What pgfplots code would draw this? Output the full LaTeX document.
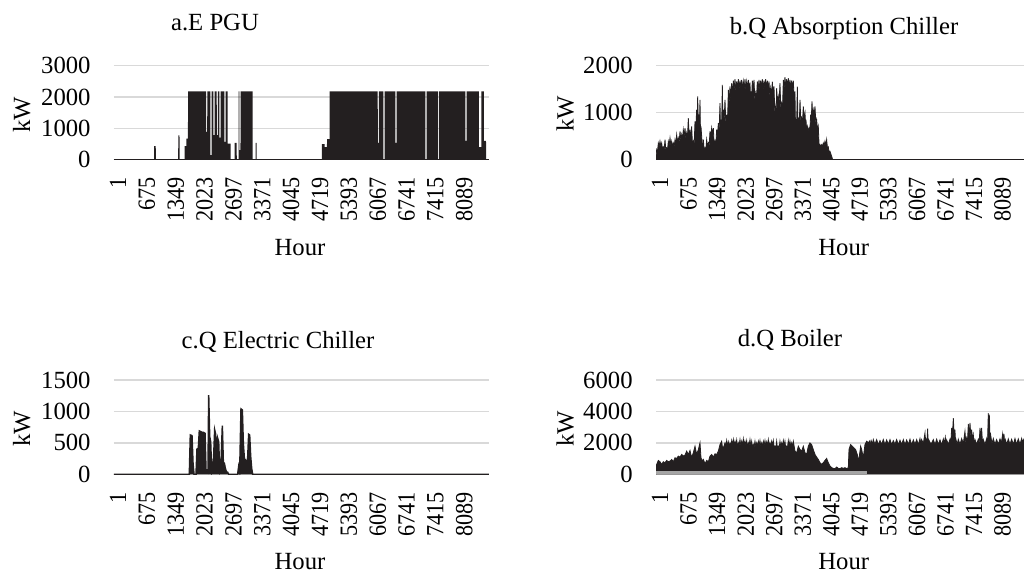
\documentclass[border=0pt]{standalone}
\usepackage{fontspec}
\setmainfont{Liberation Serif}
\usepackage{pgfplots}
\pgfplotsset{compat=1.18}
\definecolor{ser}{RGB}{35,31,32}
\definecolor{gridc}{RGB}{217,217,217}
\definecolor{band}{RGB}{165,165,165}
\newcommand\cf{\fontsize{12.35pt}{14pt}\selectfont}
\pgfplotsset{
 panel/.style={
  scale only axis, anchor=south west,
  xmin=0, xmax=8760, ymin=0,
  axis line style={draw=none},
  major tick length=0pt,
  ymajorgrids, grid style={gridc, line width=0.75pt},
  xtick={1,675,1349,2023,2697,3371,4045,4719,5393,6067,6741,7415,8089},
  xticklabels={1,675,1349,2023,2697,3371,4045,4719,5393,6067,6741,7415,8089},
  x tick label style={font=\cf, inner sep=0pt, xshift=2pt, rotate=90, xscale=0.9, anchor=east},
  y tick label style={font=\cf, inner sep=0pt, anchor=east},
  xticklabel shift=8.7pt, yticklabel shift=11.5pt,
  /pgf/number format/assume math mode=true,
 }
}
\begin{document}
\begin{tikzpicture}
% a
\begin{axis}[panel, at={(57pt,206.7pt)}, width=187.5pt, height=47pt, ymax=3000,
  ytick={0,1000,2000,3000}, yticklabels={0,1000,2000,3000}]
\addplot[fill=ser, draw=none] coordinates {
(0,0)(935,0)(937,430)(975,430)(977,0)(1500,0)(1502,770)(1530,770)(1532,0)(1648,0)(1650,430)(1690,430)(1692,670)(1728,670)(1730,2180)
(2151,2180)(2152,885)(2178,885)(2179,2180)
(2250,2180)(2251,140)(2280,140)(2281,2180)
(2322,2180)(2323,780)(2349,780)(2350,2180)
(2400,2180)(2401,780)(2427,780)(2428,2180)
(2462,2180)(2463,700)(2489,700)(2490,2180)
(2579,2180)(2580,565)(2606,565)(2607,2180)
(2655,2180)(2656,510)(2725,510)(2727,0)
(2815,0)(2817,530)(2866,530)(2868,0)
(2912,0)(2914,2180)(2930,2180)(2931,300)(2955,300)(2956,2180)(3238,2180)(3240,0)
(3306,0)(3308,530)(3330,530)(3332,0)
(4855,0)(4857,490)(4920,490)(4922,400)(4975,400)(4977,650)(5036,650)(5040,2180)
(6161,2180)(6162,530)(6188,530)(6189,2180)
(6293,2180)(6294,0)(6320,0)(6321,2180)
(6574,2180)(6575,530)(6601,530)(6602,2180)
(7274,2180)(7275,0)(7301,0)(7302,2180)
(7563,2180)(7564,0)(7590,0)(7591,2180)
(8209,2180)(8210,600)(8236,600)(8237,2180)
(8525,2180)(8526,400)(8580,400)(8582,2180)(8640,2180)(8642,600)(8690,600)(8692,0)(8760,0)};
\addplot[ser, line width=0.75pt] coordinates {(0,0)(8760,0)};
\end{axis}
% b
\begin{axis}[panel, at={(328pt,206.7pt)}, width=185.5pt, height=47pt, ymax=2000,
  ytick={0,1000,2000}, yticklabels={0,1000,2000}]
\addplot[fill=ser, draw=ser, line width=0.4pt] coordinates {
(0,0)(8,150)(16,212)(35,170)(55,353)(75,280)(94,389)(114,280)(134,353)(153,215)(173,269)(193,215)(213,424)(232,200)(252,247)(271,200)(291,389)(311,310)(331,459)(350,310)(370,389)(389,280)(409,353)(429,280)(449,424)(468,340)(488,530)(507,370)(527,459)(547,370)(567,601)(586,420)(606,530)(625,420)(645,636)(665,500)(685,671)(704,450)(724,565)(743,450)(763,883)(783,480)(803,601)(822,480)(842,707)(861,310)(881,389)(901,310)(921,813)(940,650)(960,1060)(972,850)(984,1343)(1000,760)(1015,954)(1027,760)(1039,1272)(1050,560)(1062,707)(1094,283)(1106,220)(1118,424)(1137,200)(1157,247)(1176,200)(1196,424)(1216,280)(1236,353)(1255,280)(1275,601)(1294,480)(1314,671)(1334,540)(1354,671)(1373,310)(1393,389)(1412,310)(1432,636)(1452,510)(1472,777)(1491,620)(1511,1201)(1523,680)(1535,848)(1550,680)(1566,1590)(1578,850)(1590,1060)(1610,850)(1629,1272)(1649,760)(1669,954)(1688,760)(1708,1484)(1727,1190)(1747,1555)(1767,1250)(1787,1625)(1806,1350)(1826,1682)(1845,1500)(1865,1710)(1885,1450)(1905,1661)(1925,1500)(1944,1710)(1963,1480)(1983,1682)(2003,1520)(2023,1696)(2043,1470)(2062,1661)(2082,1500)(2101,1710)(2121,1480)(2141,1661)(2160,1510)(2180,1696)(2200,1460)(2219,1640)(2231,1250)(2243,1449)(2258,1300)(2274,1682)(2294,1500)(2314,1696)(2334,1250)(2353,1413)(2373,1300)(2392,1661)(2412,1500)(2432,1696)(2452,1480)(2471,1682)(2490,1510)(2510,1710)(2530,1470)(2550,1682)(2570,1520)(2589,1710)(2609,1480)(2628,1682)(2648,1500)(2668,1661)(2688,1350)(2707,1519)(2727,1350)(2746,1661)(2766,1380)(2786,1555)(2805,1000)(2825,1131)(2837,1000)(2849,1519)(2868,1200)(2888,1343)(2907,1200)(2927,1625)(2947,1080)(2967,1201)(2987,1080)(3006,1696)(3026,1520)(3045,1753)(3065,1540)(3085,1710)(3105,1520)(3124,1731)(3144,1500)(3163,1696)(3183,1510)(3203,1682)(3222,1490)(3242,1682)(3262,1300)(3281,1449)(3293,730)(3305,813)(3321,730)(3337,1555)(3352,760)(3368,848)(3384,760)(3400,1272)(3420,790)(3439,883)(3459,790)(3478,1131)(3498,880)(3518,989)(3530,760)(3541,848)(3557,630)(3573,707)(3593,600)(3612,671)(3632,600)(3651,954)(3667,850)(3683,1237)(3699,950)(3714,1060)(3734,950)(3754,1131)(3774,760)(3793,848)(3813,630)(3832,707)(3852,280)(3872,318)(3891,280)(3911,318)(3931,280)(3950,353)(3970,300)(3990,389)(4010,300)(4029,424)(4049,240)(4068,269)(4088,160)(4108,177)(4147,71)(4171,0)(8760,0)};
\addplot[ser, line width=0.75pt] coordinates {(0,0)(8760,0)};
\end{axis}
% c
\begin{axis}[panel, at={(57pt,49.35pt)}, width=187.5pt, height=47.15pt, ymax=1500,
  ytick={0,500,1000,1500}, yticklabels={0,500,1000,1500}]
\addplot[fill=ser, draw=ser, line width=0.75pt] coordinates {
(0,0)(1760,0)(1783,625)(1822,615)(1846,175)(1869,0)(1916,0)(1939,403)(1970,413)(1993,689)(2025,678)(2056,668)(2087,668)(2126,652)(2149,69)(2173,69)(2196,42)(2212,1261)(2235,599)(2258,519)(2282,42)(2305,95)(2328,281)(2352,705)(2375,636)(2398,69)(2422,572)(2445,519)(2468,69)(2500,175)(2531,774)(2554,191)(2578,175)(2601,95)(2632,27)(2655,32)(2679,0)(2889,0)(2912,122)(2936,42)(2967,1039)(2998,1023)(3021,493)(3045,254)(3068,228)(3099,175)(3123,265)(3146,636)(3169,625)(3193,281)(3216,95)(3239,0)(8760,0)};
\end{axis}
% d
\begin{axis}[panel, at={(328pt,49.35pt)}, width=185.5pt, height=47.15pt, ymax=6000,
  ytick={0,2000,4000,6000}, yticklabels={0,2000,4000,6000}]
\addplot[fill=ser, draw=ser, line width=0.4pt] coordinates {
(0,0)(4,500)(16,632)(55,884)(94,800)(134,632)(173,800)(213,737)(252,884)(291,800)(331,842)(370,947)(409,800)(449,1053)(488,1010)(527,1158)(567,1094)(606,1263)(645,1158)(685,1221)(724,1474)(763,1263)(803,1516)(842,1053)(881,1368)(921,1789)(960,1263)(1000,1579)(1039,2000)(1062,1053)(1094,842)(1118,947)(1157,674)(1196,884)(1236,800)(1275,1158)(1314,1263)(1354,1094)(1393,1305)(1432,1263)(1472,1474)(1511,1895)(1550,2105)(1570,1700)(1590,1684)(1629,2000)(1649,1750)(1669,2147)(1688,1800)(1708,2063)(1727,1750)(1747,2000)(1767,1800)(1787,2147)(1806,1850)(1826,2210)(1845,1800)(1865,2105)(1885,1850)(1905,2189)(1925,1750)(1944,2000)(1963,1850)(1983,2210)(2003,1800)(2023,2105)(2043,1850)(2062,2252)(2082,1800)(2101,2105)(2121,1850)(2141,2147)(2160,1750)(2180,2000)(2200,1850)(2219,2210)(2239,1800)(2259,2105)(2278,1700)(2298,1895)(2318,1750)(2337,2105)(2357,1750)(2377,2000)(2396,1800)(2416,2105)(2436,1850)(2455,2147)(2475,1750)(2495,2000)(2514,1800)(2534,2105)(2554,1850)(2573,2147)(2593,1800)(2613,2063)(2632,1850)(2652,2210)(2672,1750)(2691,2000)(2711,1800)(2731,2105)(2750,1850)(2770,2147)(2790,1600)(2809,1789)(2829,1650)(2849,2105)(2868,1600)(2888,1789)(2908,1650)(2927,2105)(2947,1750)(2967,2000)(2986,1800)(3006,2147)(3026,1800)(3045,2105)(3065,1600)(3085,1789)(3104,1700)(3124,2147)(3144,1800)(3163,2105)(3183,1750)(3203,2000)(3222,1800)(3242,2105)(3282,1474)(3321,1368)(3360,1789)(3400,1579)(3439,1474)(3478,1789)(3518,1368)(3557,1263)(3596,1789)(3636,2000)(3675,1895)(3714,1579)(3754,1263)(3793,1094)(3832,947)(3872,737)(3911,632)(3950,737)(3990,884)(4029,1010)(4068,737)(4108,526)(4147,421)(4187,379)(4226,358)(4265,463)(4305,379)(4344,358)(4383,421)(4423,379)(4462,421)(4501,358)(4541,421)(4557,1579)(4596,1895)(4635,1789)(4675,1684)(4714,1579)(4753,1263)(4777,842)(4801,1158)(4832,1789)(4856,1579)(4895,1053)(4934,1895)(4974,2105)(5013,2000)(5052,2147)(5072,1850)(5092,2105)(5111,1850)(5131,2210)(5170,1900)(5210,2210)(5250,1880)(5289,2147)(5328,1900)(5367,2210)(5406,1880)(5446,2189)(5485,1900)(5525,2210)(5564,1880)(5603,2147)(5643,1900)(5682,2210)(5722,1880)(5761,2168)(5800,1900)(5840,2210)(5879,1880)(5918,2189)(5958,1900)(5997,2231)(6036,1880)(6076,2189)(6115,1900)(6155,2210)(6194,1880)(6233,2273)(6252,1950)(6272,2210)(6311,1950)(6351,2631)(6363,1950)(6375,2210)(6395,1950)(6414,2905)(6426,1950)(6438,2210)(6493,1900)(6548,2210)(6588,1880)(6627,2231)(6666,1900)(6705,2189)(6745,1880)(6784,2252)(6807,1950)(6831,2358)(6847,1950)(6863,2189)(6902,1900)(6941,2231)(6961,1950)(6981,2947)(7000,2500)(7020,3579)(7040,2500)(7059,2842)(7071,2000)(7083,2210)(7110,1900)(7138,2231)(7178,1900)(7217,2273)(7256,1950)(7295,2737)(7315,2000)(7335,2315)(7355,2100)(7374,3200)(7394,2500)(7414,3263)(7434,2400)(7453,2842)(7473,2200)(7492,2526)(7512,1950)(7532,2210)(7571,1900)(7610,2231)(7630,1950)(7650,2947)(7670,2300)(7689,2947)(7709,1950)(7728,2210)(7768,1900)(7807,2273)(7827,1950)(7846,3894)(7858,2800)(7870,3789)(7886,2300)(7901,2526)(7932,1950)(7964,2273)(8003,1900)(8043,2210)(8083,1900)(8122,2252)(8154,2000)(8185,2568)(8200,2100)(8216,2568)(8232,2000)(8248,2210)(8283,1900)(8318,2252)(8358,1900)(8397,2231)(8437,1900)(8476,2273)(8515,1900)(8554,2252)(8594,1900)(8633,2273)(8652,1950)(8672,2210)(8716,1900)(8760,2200)(8760,0)};
\addplot[fill=band, draw=none] coordinates {(0,0)(0,200)(4974,200)(4974,0)};
\end{axis}
% titles and labels
\node[font=\cf, anchor=base] at (107.5pt,271.15pt) {a.E PGU};
\node[font=\cf, anchor=base] at (422pt,269pt) {b.Q Absorption Chiller};
\node[font=\cf, anchor=base] at (139pt,112.35pt) {c.Q Electric Chiller};
\node[font=\cf, anchor=base] at (395pt,113.15pt) {d.Q Boiler};
\node[font=\cf, anchor=base] at (150pt,158.5pt) {Hour};
\node[font=\cf, anchor=base] at (421.85pt,158.5pt) {Hour};
\node[font=\cf, anchor=base] at (150pt,1.8pt) {Hour};
\node[font=\cf, anchor=base] at (421.85pt,1.8pt) {Hour};
\node[font=\cf, rotate=90, anchor=base] at (15pt,229pt) {kW};
\node[font=\cf, rotate=90, anchor=base] at (286.85pt,229.5pt) {kW};
\node[font=\cf, rotate=90, anchor=base] at (15pt,72pt) {kW};
\node[font=\cf, rotate=90, anchor=base] at (286.85pt,72pt) {kW};
\pgfresetboundingbox
\useasboundingbox (0,0) rectangle (512pt,286.5pt);
\end{tikzpicture}
\end{document}
